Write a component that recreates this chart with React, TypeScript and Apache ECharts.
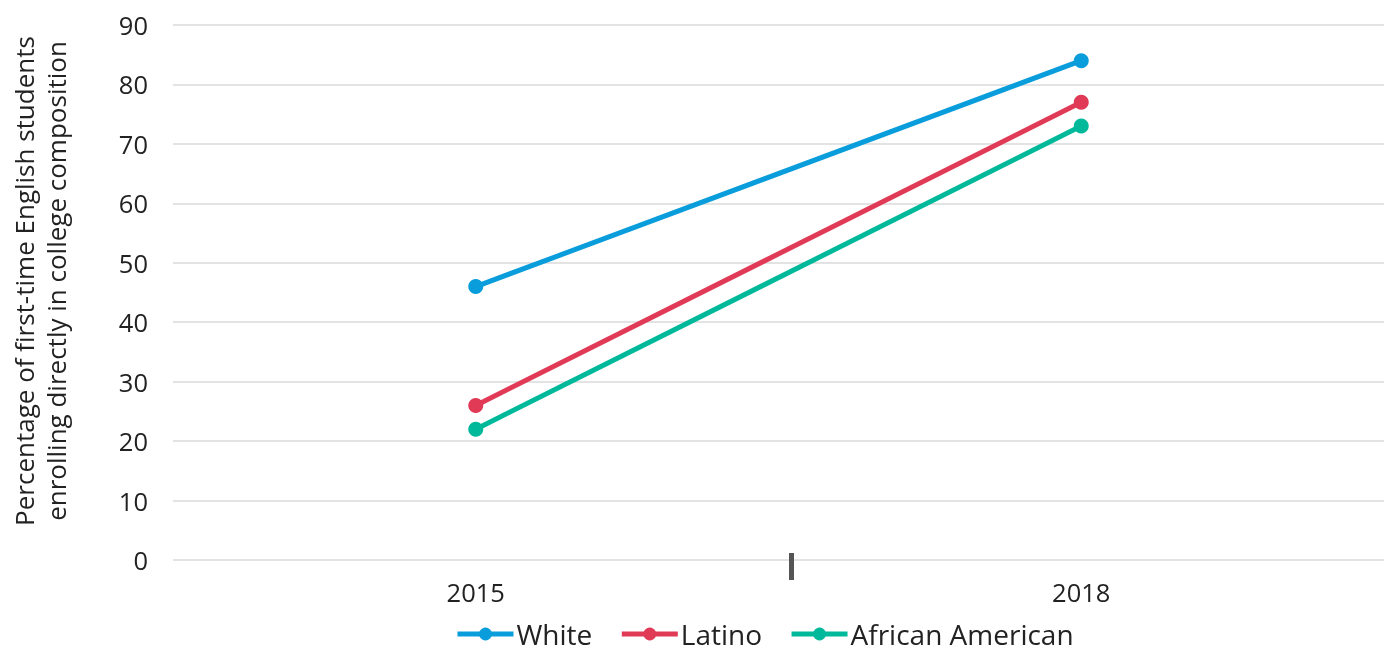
import React, { useEffect, useRef } from "react";
import * as echarts from "echarts";

const categories = ["2015", "2018"];
const whiteValues = [46, 84];
const latinoValues = [26, 77];
const africanAmericanValues = [22, 73];
const seriesNames = ["White", "Latino", "African American"];
const seriesColors = ["#0A9DDB", "#E03A56", "#00B99A"];
const yAxisTitle = "Percentage of first-time English students\nenrolling directly in college composition";

export default function App() {
  const ref = useRef<HTMLDivElement>(null);
  useEffect(() => {
    if (!ref.current) return;
    const chart = echarts.init(ref.current, undefined, { renderer: "svg" });
    const values = [whiteValues, latinoValues, africanAmericanValues];
    const font = "'Open Sans', 'Noto Sans', sans-serif";
    chart.setOption({
      animation: false,
      textStyle: { fontFamily: font },
      grid: { left: 173, right: 4, top: 25, bottom: 90, outerBoundsMode: "none", containLabel: false },
      xAxis: {
        type: "category",
        data: categories,
        boundaryGap: true,
        axisLine: { show: false },
        axisTick: { show: false },
        axisLabel: { color: "#222", fontSize: 25.5, margin: 19, fontFamily: font },
      },
      yAxis: {
        type: "value",
        min: 0,
        max: 90,
        interval: 10,
        axisLine: { show: false },
        axisTick: { show: false },
        axisLabel: { color: "#222", fontSize: 25.5, margin: 25, fontFamily: font },
        splitLine: { lineStyle: { color: "#e3e3e3", width: 2 } },
        name: yAxisTitle,
        nameLocation: "middle",
        nameRotate: 90,
        nameGap: 101,
        nameTextStyle: { color: "#222", fontSize: 26, lineHeight: 32, fontFamily: font, padding: [0, 0, 0, 23] },
      },
      legend: {
        top: 619,
        left: 455,
        padding: 0,
        itemWidth: 56,
        itemHeight: 16,
        itemGap: 27,
        lineStyle: { width: 5 },
        textStyle: { color: "#222", fontSize: 28, lineHeight: 30, fontFamily: font, padding: [0, 0, 0, -2] },
        data: seriesNames,
      },
      graphic: [
        { type: "rect", z: 100, shape: { x: 789, y: 553, width: 5, height: 27 }, style: { fill: "#555" } },
      ],
      series: seriesNames.map((name, i) => ({
        name,
        type: "line",
        data: values[i],
        symbol: "circle",
        symbolSize: 15,
        lineStyle: { width: 5, color: seriesColors[i] },
        itemStyle: { color: seriesColors[i] },
      })),
    });
    return () => chart.dispose();
  }, []);
  return <div ref={ref} style={{ position: "fixed", left: 0, top: 0, width: 1388, height: 650 }} />;
}
